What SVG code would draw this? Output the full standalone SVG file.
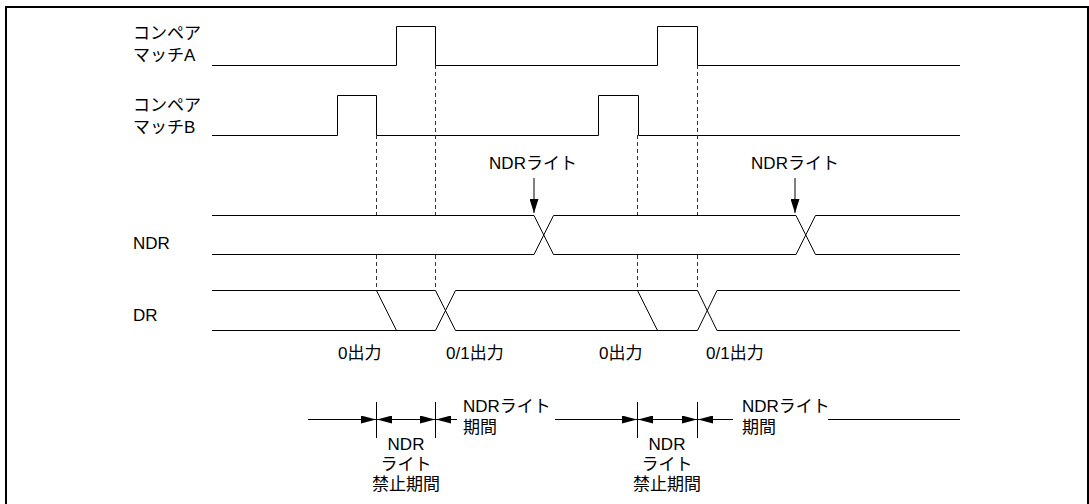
<svg xmlns="http://www.w3.org/2000/svg" width="1089" height="504" viewBox="0 0 1089 504">
<style>
text{font-family:"Liberation Sans","Noto Sans CJK JP",sans-serif;font-size:17px;fill:#000}
.w{fill:none;stroke:#000;stroke-width:1}
.d{fill:none;stroke:#333;stroke-width:1;stroke-dasharray:4 3}
.c{text-anchor:middle}
</style>
<defs>
<marker id="ah" markerUnits="userSpaceOnUse" viewBox="0 0 15 8" refX="15" refY="4" markerWidth="15" markerHeight="8" orient="auto-start-reverse">
<path d="M0,0 L15,4 L0,8 z" fill="#000"/>
</marker>
<marker id="ad" markerUnits="userSpaceOnUse" viewBox="0 0 14 9" refX="14" refY="4.5" markerWidth="14" markerHeight="9" orient="auto">
<path d="M0,0 L14,4.5 L0,9 z" fill="#000"/>
</marker>
</defs>
<rect x="6" y="7" width="1082" height="520" fill="#fff" stroke="#000" stroke-width="2"/>

<g id="label-a">
<text x="133" y="39">コンペア</text>
<text x="133" y="61">マッチA</text>
</g>
<g id="label-b">
<text x="133" y="111">コンペア</text>
<text x="133" y="133">マッチB</text>
</g>
<g id="label-ndr"><text x="133" y="249">NDR</text></g>
<g id="label-dr"><text x="133" y="321">DR</text></g>

<g id="wave-a"><path class="w" d="M212,65.5 H396.5 V26.5 H435.5 V65.5 H657.5 V26.5 H697.5 V65.5 H960"/></g>
<g id="wave-b"><path class="w" d="M212,135.5 H337.5 V95.5 H376.5 V135.5 H598.5 V95.5 H638.5 V135.5 H960"/></g>
<g id="wave-ndr"><path class="w" d="M212,215.5 H534 L553.5,254.5 H796 L815.5,215.5 H960 M212,254.5 H534 L553.5,215.5 H796 L815.5,254.5 H960"/></g>
<g id="wave-dr"><path class="w" d="M212,290.5 H435.5 L455.5,330.5 H697.5 L717,290.5 H960 M212,330.5 H435.5 L455.5,290.5 H697.5 L717,330.5 H960 M376.5,290.5 L396.5,330.5 M637.5,290.5 L657.5,330.5"/></g>

<g id="connectors">
<path class="d" d="M376.5,135 V215 M376.5,255 V290 M435.5,65 V215 M435.5,255 V290 M637.5,135 V215 M637.5,255 V290 M697.5,65 V215 M697.5,255 V290"/>
<line class="w" x1="534" y1="178" x2="534" y2="213" marker-end="url(#ad)"/>
<line class="w" x1="795" y1="178" x2="795" y2="213" marker-end="url(#ad)"/>
<path class="w" d="M376.5,402 V438 M435.5,402 V438 M637.5,402 V438 M697.5,402 V438"/>
<line class="w" x1="308" y1="419.5" x2="376" y2="419.5" marker-end="url(#ah)"/>
<line class="w" x1="377" y1="419.5" x2="435" y2="419.5" marker-start="url(#ah)" marker-end="url(#ah)"/>
<line class="w" x1="457" y1="419.5" x2="436" y2="419.5" marker-end="url(#ah)"/>
<line class="w" x1="555" y1="419.5" x2="637" y2="419.5" marker-end="url(#ah)"/>
<line class="w" x1="638" y1="419.5" x2="697" y2="419.5" marker-start="url(#ah)" marker-end="url(#ah)"/>
<line class="w" x1="733" y1="419.5" x2="698" y2="419.5" marker-end="url(#ah)"/>
<line class="w" x1="828" y1="419.5" x2="960" y2="419.5"/>
</g>

<g id="ndr-write-1"><text class="c" x="533" y="169">NDRライト</text></g>
<g id="ndr-write-2"><text class="c" x="795" y="169">NDRライト</text></g>
<g id="out-0-1"><text x="338" y="359">0出力</text></g>
<g id="out-01-1"><text x="446" y="359">0/1出力</text></g>
<g id="out-0-2"><text x="599" y="359">0出力</text></g>
<g id="out-01-2"><text x="706" y="359">0/1出力</text></g>
<g id="period-1">
<text x="463" y="412">NDRライト</text>
<text x="463" y="433">期間</text>
</g>
<g id="period-2">
<text x="742" y="412">NDRライト</text>
<text x="742" y="433">期間</text>
</g>
<g id="inhibit-1">
<text class="c" x="406" y="450">NDR</text>
<text class="c" x="406" y="470">ライト</text>
<text class="c" x="406" y="490">禁止期間</text>
</g>
<g id="inhibit-2">
<text class="c" x="667" y="450">NDR</text>
<text class="c" x="667" y="470">ライト</text>
<text class="c" x="667" y="490">禁止期間</text>
</g>
</svg>
